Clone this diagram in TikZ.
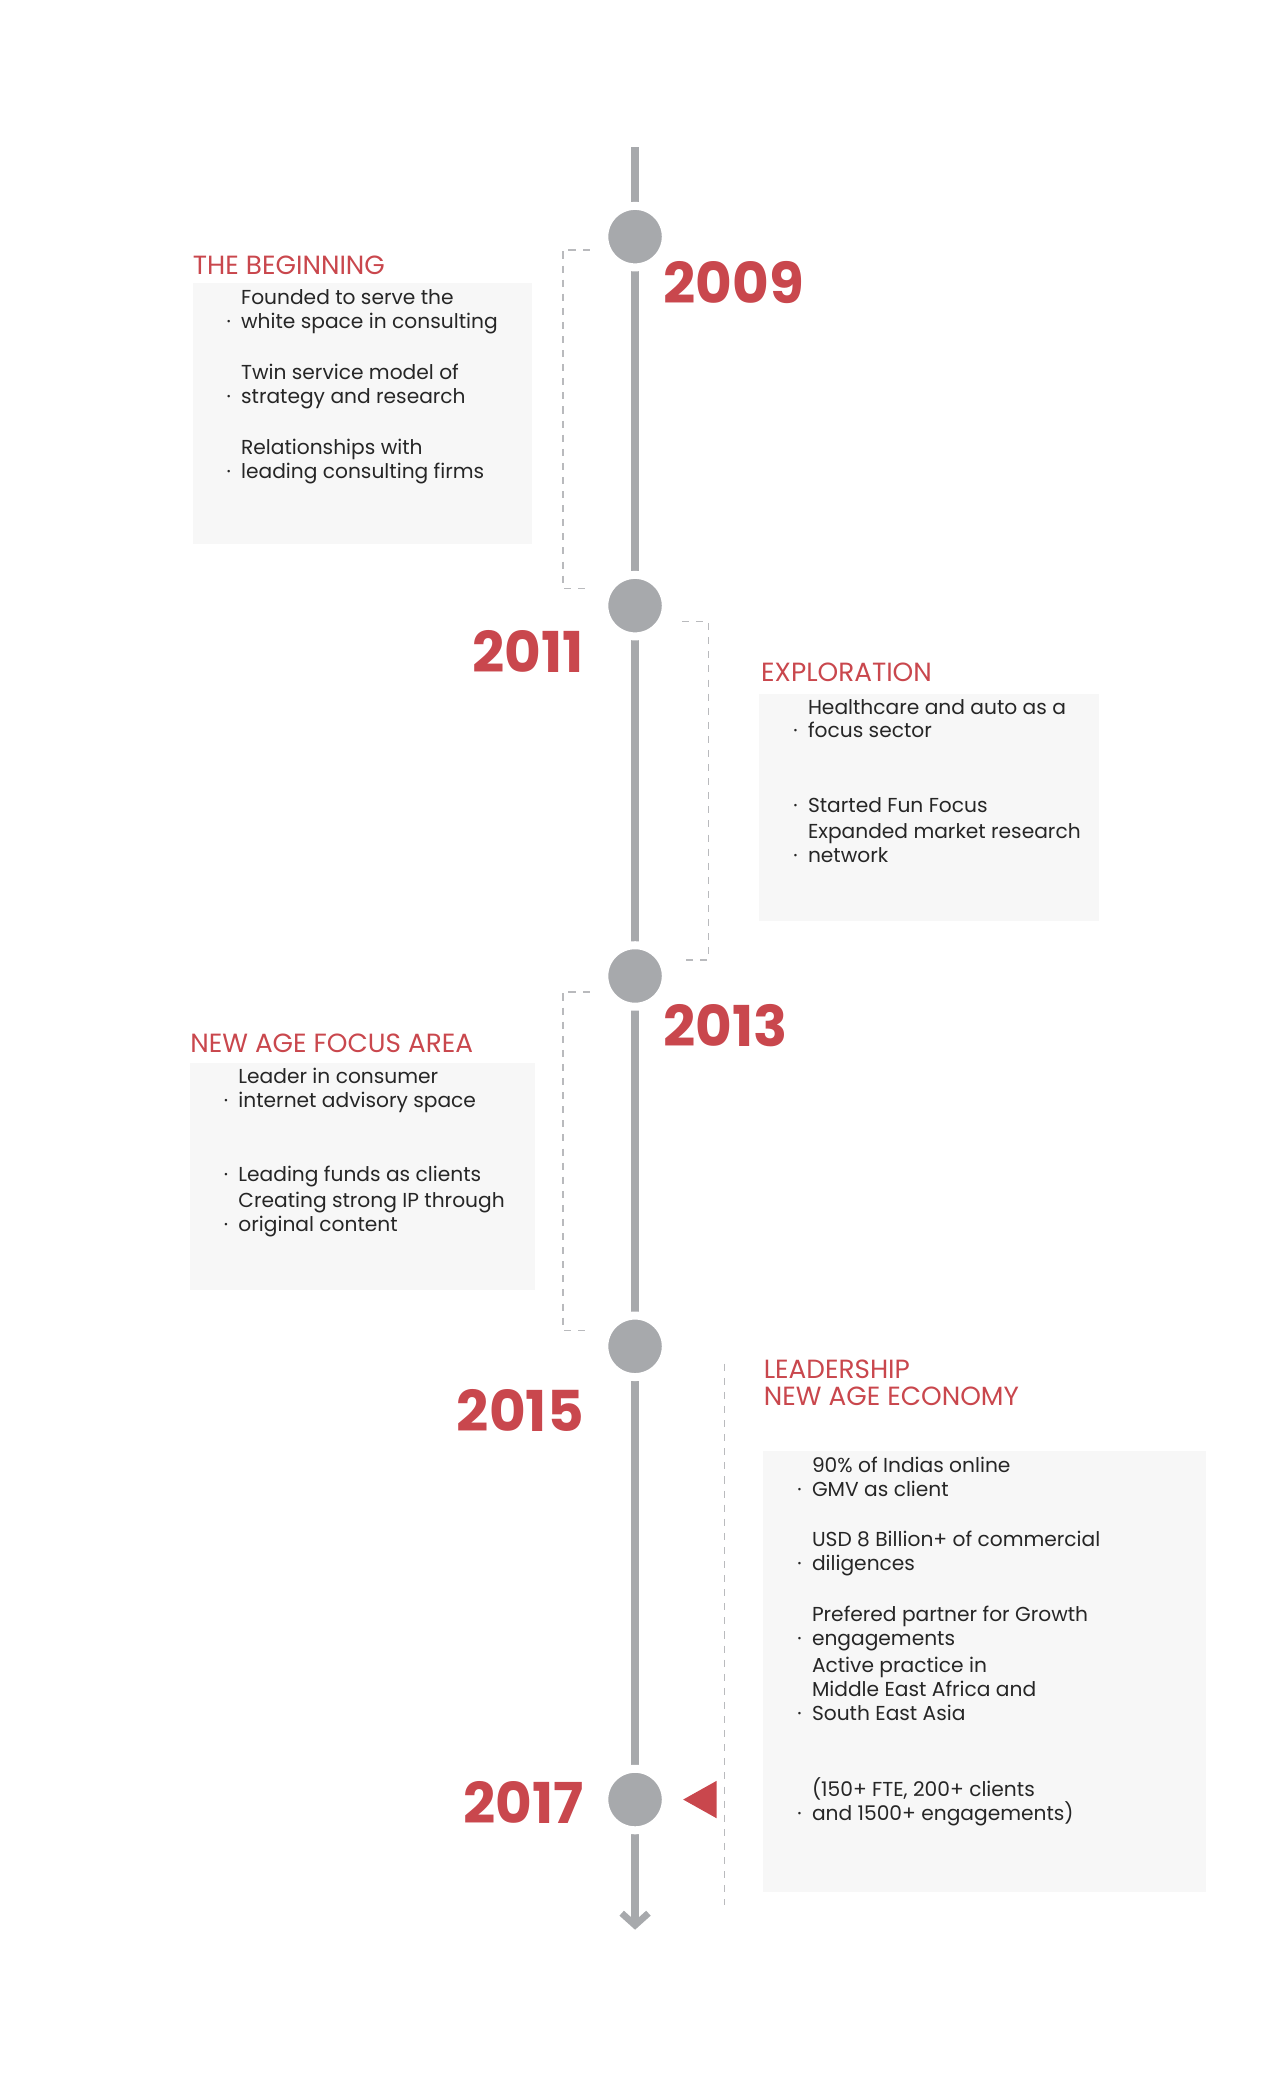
\documentclass[tikz,border=0pt]{standalone}
\usepackage{fontspec}
\setmainfont{Poppins}
\usetikzlibrary{positioning, calc, arrows.meta}
\definecolor{tlred}{HTML}{C9474D}
\definecolor{tlgray}{HTML}{A7A9AC}
\definecolor{boxgray}{HTML}{F7F7F7}
\begin{document}
\begin{tikzpicture}[x=0.02cm, y=-0.02cm,
				year/.style = {text=tlred, font=\fontsize{24}{26}\selectfont\bfseries, inner sep=0pt},
				heading/.style = {text=tlred, font=\fontsize{11.2}{13}\selectfont, inner sep=0pt, anchor=base west, align=left},
				item/.style = {font=\fontsize{8.6}{10.2}\selectfont, inner sep=0pt, anchor=base west, align=left, text=black!85},
				dot/.style = {font=\fontsize{8.6}{10.2}\selectfont, inner sep=0pt, anchor=base east, text=black!85},
				infobox/.style = {fill=boxgray, draw=none},
				milestone/.style = {circle, fill=tlgray, draw=white, line width=0.12cm, minimum size=0.92cm, inner sep=0pt},
				bracket/.style = {dashed, tlgray!80, line width=0.6pt},
			]
			\useasboundingbox (0,0) rectangle (950,1567);
			% timeline
			\coordinate (top) at (475,110);
			\coordinate (bottom) at (475,1440);
			\draw[tlgray, line width=0.12cm] (top) -- (bottom);
			\draw[tlgray, line width=0.1cm] (465,1431) -- (475,1440) -- (485,1431);

			\node[milestone] (m9) at (475,177) {};
			\node[milestone] (m11) at (475,453) {};
			\node[milestone] (m13) at (475,730) {};
			\node[milestone] (m15) at (475,1007) {};
			\node[milestone] (m17) at (475,1346) {};

			\node[year, anchor=west] (y9) at (496,211) {2009};
			\node[year, anchor=east] (y11) at (437,487) {2011};
			\node[year, anchor=west] (y13) at (496,767) {2013};
			\node[year, anchor=east] (y15) at (437,1055) {2015};
			\node[year, anchor=east] (y17) at (437,1348) {2017};

			% brackets
			\draw[bracket] (441,187) -- (421,187) -- (421,440) -- (441,440);
			\draw[bracket] (510,465) -- (530,465) -- (530,718) -- (510,718);
			\draw[bracket] (441,742) -- (421,742) -- (421,995) -- (441,995);
			\coordinate (lt) at (542,1020);
			\coordinate (lb) at (542,1425);
			\draw[bracket] (lt) -- (lb);
			\fill[tlred] (511,1346) -- (536,1332) -- (536,1360) -- cycle;

			% boxes
			\fill[infobox] (144,212) rectangle (398,407);
			\node[heading] (h1) at (144,205) {THE BEGINNING};
			\node[dot] at (173,246) {·};
			\node[item] (a1) at (180,246) {Founded to serve the\\white space in consulting};
			\node[dot] at (173,302) {·};
			\node[item] (a2) at (180,302) {Twin service model of\\strategy and research};
			\node[dot] at (173,358) {·};
			\node[item] (a3) at (180,358) {Relationships with\\leading consulting firms};

			\fill[infobox] (568,519) rectangle (822,689);
			\node[heading] (h2) at (569,510) {EXPLORATION};
			\node[dot] at (597,552) {·};
			\node[item] (b1) at (604,552) {Healthcare and auto as a\\focus sector};
			\node[dot] at (597,608) {·};
			\node[item] (b2) at (604,608) {Started Fun Focus};
			\node[dot] at (597,645) {·};
			\node[item] (b3) at (604,645) {Expanded market research\\network};

			\fill[infobox] (142,795) rectangle (400,965);
			\node[heading] (h3) at (142,787) {NEW AGE FOCUS AREA};
			\node[dot] at (171,828) {·};
			\node[item] (c1) at (178,828) {Leader in consumer\\internet advisory space};
			\node[dot] at (171,884) {·};
			\node[item] (c2) at (178,884) {Leading funds as clients};
			\node[dot] at (171,921) {·};
			\node[item] (c3) at (178,921) {Creating strong IP through\\original content};

			\fill[infobox] (571,1085) rectangle (902,1415);
			\node[heading] (h4) at (571,1051) {LEADERSHIP\\[-1.5pt]NEW AGE ECONOMY};
			\node[dot] at (600,1119) {·};
			\node[item] (d1) at (607,1119) {90\% of Indias online\\GMV as client};
			\node[dot] at (600,1175) {·};
			\node[item] (d2) at (607,1175) {USD 8 Billion+ of commercial\\diligences};
			\node[dot] at (600,1231) {·};
			\node[item] (d3) at (607,1231) {Prefered partner for Growth\\engagements};
			\node[dot] at (600,1287) {·};
			\node[item] (d4) at (607,1287) {Active practice in\\Middle East Africa and\\South East Asia};
			\node[dot] at (600,1362) {·};
			\node[item] (d5) at (607,1362) {(150+ FTE, 200+ clients\\and 1500+ engagements)};

		\end{tikzpicture}
\end{document}
